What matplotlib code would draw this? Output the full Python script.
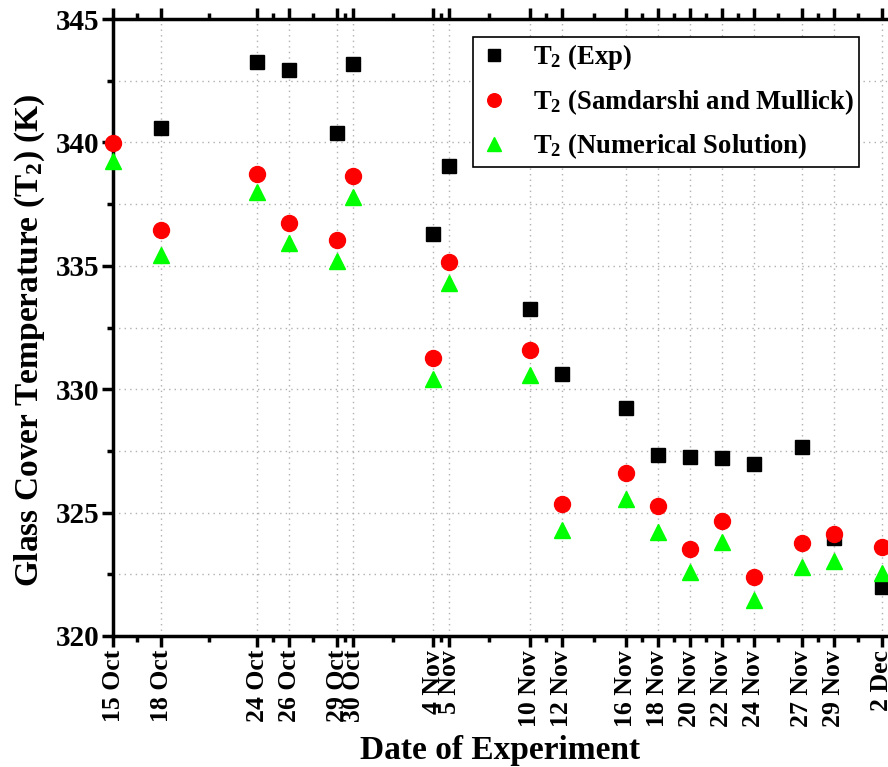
import numpy as np
import matplotlib
matplotlib.use("Agg")
import matplotlib.pyplot as plt

plt.rcParams['font.family'] = ['Liberation Serif', 'DejaVu Serif']
plt.rcParams['font.weight'] = 'bold'
plt.rcParams['mathtext.fontset'] = 'custom'
plt.rcParams['mathtext.rm'] = 'Liberation Serif:bold'
plt.rcParams['mathtext.it'] = 'Liberation Serif:bold'
plt.rcParams['mathtext.bf'] = 'Liberation Serif:bold'

# Dates (day offset from 15 Oct) and labels
date_labels = ['15 Oct', '18 Oct', '24 Oct', '26 Oct', '29 Oct', '30 Oct', '4 Nov', '5 Nov',
               '10 Nov', '12 Nov', '16 Nov', '18 Nov', '20 Nov', '22 Nov', '24 Nov', '27 Nov',
               '29 Nov', '2 Dec']
day_offsets = [0, 3, 9, 11, 14, 15, 20, 21, 26, 28, 32, 34, 36, 38, 40, 43, 45, 48]

t2_exp = [np.nan, 340.6, 343.25, 342.93, 340.38, 343.18, 336.3, 339.06, 333.24, 330.63,
          329.23, 327.35, 327.24, 327.23, 326.96, 327.65, 323.97, 322.0]
t2_samdarshi = [339.98, 336.44, 338.73, 336.73, 336.05, 338.65, 331.26, 335.14, 331.6, 325.34,
                326.62, 325.28, 323.53, 324.66, 322.39, 323.78, 324.12, 323.62]
t2_numerical = [339.25, 335.43, 337.98, 335.91, 335.21, 337.78, 330.4, 334.31, 330.59, 324.29,
                325.54, 324.23, 322.61, 323.81, 321.46, 322.8, 323.05, 322.57]

fig = plt.figure(figsize=(8.88, 7.67), dpi=100)
left = 113 / 888
bottom = 1 - 636 / 767
top = 1 - 19 / 767
xmax = 49.0
px_per_day = (882 - 113) / 48
ax_w_px = xmax * px_per_day
ax_h_px = 636 - 19
ax = fig.add_axes([left, bottom, ax_w_px / 888, top - bottom])

ax.plot(day_offsets, t2_exp, linestyle='none', marker='s', ms=9.5, color='black',
        label=r'T$_2$ (Exp)', zorder=3, clip_on=False)
ax.plot(day_offsets, t2_samdarshi, linestyle='none', marker='o', ms=11.5, color='#ff0000',
        label=r'T$_2$ (Samdarshi and Mullick)', zorder=4, clip_on=False)
ax.plot(day_offsets, t2_numerical, linestyle='none', marker='^', ms=12, color='#00ff00',
        label=r'T$_2$ (Numerical Solution)', zorder=5, clip_on=False)

ax.set_xlim(0, xmax)
ax.set_ylim(320, 345)

ax.set_xticks(day_offsets)
ax.set_xticklabels(date_labels, rotation=90, fontsize=18.5, fontweight='bold')
mids = [(a + b) / 2 for a, b in zip(day_offsets[:-1], day_offsets[1:])]
ax.set_xticks(mids, minor=True)
ax.set_yticks([320, 325, 330, 335, 340, 345])
ax.set_yticks(np.arange(322.5, 345, 5), minor=True)
for lab in ax.get_yticklabels():
    lab.set_fontsize(21)
    lab.set_fontweight('bold')

ax.tick_params(axis='both', which='major', direction='out', length=8, width=2.5, pad=2)
ax.tick_params(axis='both', which='minor', direction='out', length=4, width=2.5)
ax.tick_params(axis='x', top=True, which='both')

for y in np.arange(322.5, 345, 2.5):
    ax.axhline(y, color='#b0b0b0', lw=1, ls=(0, (1, 3)), zorder=1)
for d in day_offsets:
    ax.axvline(d, color='#b0b0b0', lw=1, ls=(0, (1, 3)), zorder=1)

for s in ['left', 'bottom', 'top']:
    ax.spines[s].set_linewidth(2.5)
ax.spines['right'].set_visible(False)

ax.set_xlabel('Date of Experiment', fontsize=24, fontweight='bold')
ax.xaxis.set_label_coords((500 - 113) / ax_w_px, (636 - 750) / ax_h_px)
ax.xaxis.label.set_va('center')
ax.set_ylabel(r'Glass Cover Temperature (T$_2$) (K)', fontsize=24, fontweight='bold')
ax.yaxis.set_label_coords((30 - 113) / ax_w_px, (636 - 340) / ax_h_px)
ax.yaxis.label.set_va('center')

leg = ax.legend(loc='upper left',
                bbox_to_anchor=((473 - 113) / ax_w_px, (636 - 37) / ax_h_px),
                fontsize=19.2, frameon=True, fancybox=False, edgecolor='black',
                framealpha=1.0,
                handlelength=1.2, handletextpad=0.85, borderpad=0.2, labelspacing=0.55,
                markerscale=0.85, borderaxespad=0)
leg.get_frame().set_linewidth(1.2)
leg.set_zorder(10)

fig.savefig('out.png', dpi=100)
